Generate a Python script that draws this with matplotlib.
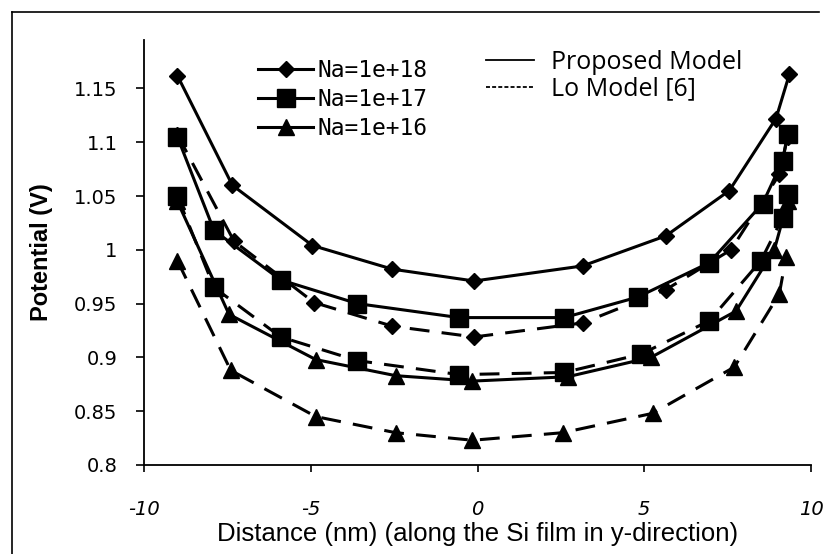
import matplotlib
matplotlib.use('Agg')
import matplotlib.pyplot as plt
from matplotlib.lines import Line2D

# Na = 1e18 (diamonds)
x_18_prop = [-9.0, -7.35, -4.95, -2.55, -0.1, 3.15, 5.65, 7.55, 8.95, 9.35]
y_18_prop = [1.162, 1.060, 1.004, 0.982, 0.971, 0.985, 1.013, 1.055, 1.122, 1.163]
x_18_lo = [-9.0, -7.3, -4.9, -2.55, -0.1, 3.15, 5.65, 7.6, 9.05, 9.3]
y_18_lo = [1.107, 1.008, 0.951, 0.929, 0.919, 0.932, 0.963, 1.0, 1.07, 1.105]

# Na = 1e17 (squares)
x_17_prop = [-9.0, -7.9, -5.9, -3.6, -0.55, 2.6, 4.8, 6.95, 8.55, 9.15, 9.3]
y_17_prop = [1.105, 1.018, 0.972, 0.950, 0.937, 0.937, 0.956, 0.988, 1.043, 1.083, 1.108]
x_17_lo = [-9.0, -7.9, -5.9, -3.6, -0.55, 2.6, 4.9, 6.95, 8.5, 9.15, 9.3]
y_17_lo = [1.05, 0.965, 0.919, 0.897, 0.884, 0.886, 0.903, 0.934, 0.99, 1.03, 1.052]

# Na = 1e16 (triangles)
x_16_prop = [-9.0, -7.45, -4.85, -2.45, -0.15, 2.7, 5.2, 7.75, 8.9, 9.3]
y_16_prop = [1.045, 0.94, 0.898, 0.883, 0.878, 0.882, 0.9, 0.943, 1.0, 1.045]
x_16_lo = [-9.0, -7.4, -4.85, -2.45, -0.15, 2.55, 5.25, 7.7, 9.05, 9.25]
y_16_lo = [0.99, 0.888, 0.845, 0.830, 0.823, 0.830, 0.848, 0.891, 0.959, 0.993]

x_ticks = [-10, -5, 0, 5, 10]
y_ticks = [0.8, 0.85, 0.9, 0.95, 1.0, 1.05, 1.1, 1.15]
y_ticklabels = ['0.8', '0.85', '0.9', '0.95', '1', '1.05', '1.1', '1.15']

dash = (0, (6.5, 4))
lw = 2.2

fig = plt.figure(figsize=(8.34, 5.54), dpi=100)
ax = fig.add_axes([144/834, 1 - 465/554, 667/834, 425/554])

# frame around the whole picture (left and top only visible)
fig.add_artist(Line2D([12/834, 12/834], [0, 1 - 12/554], color='black', lw=1.2))
fig.add_artist(Line2D([12/834, 819/834], [1 - 12/554, 1 - 12/554], color='black', lw=1.2))

ax.plot(x_18_prop, y_18_prop, color='black', lw=lw, marker='D', ms=8)
ax.plot(x_18_lo, y_18_lo, color='black', lw=lw, ls=dash, marker='D', ms=8)
ax.plot(x_17_prop, y_17_prop, color='black', lw=lw, marker='s', ms=13)
ax.plot(x_17_lo, y_17_lo, color='black', lw=lw, ls=dash, marker='s', ms=13)
ax.plot(x_16_prop, y_16_prop, color='black', lw=lw, marker='^', ms=12)
ax.plot(x_16_lo, y_16_lo, color='black', lw=lw, ls=dash, marker='^', ms=12)

ax.set_xlim(-10, 10)
ax.set_ylim(0.8, 1.195)
ax.set_xticks(x_ticks)
ax.set_xticklabels([str(t) for t in x_ticks], fontsize=14, style='italic',
                   family='DejaVu Sans')
ax.set_yticks(y_ticks)
ax.set_yticklabels(y_ticklabels, fontsize=14, family='DejaVu Sans')
ax.tick_params(axis='y', direction='out', length=6, width=1.2, pad=13)
ax.tick_params(axis='x', direction='out', length=5, width=1.2, pad=20)
for s in ['top', 'right']:
    ax.spines[s].set_visible(False)
for s in ['left', 'bottom']:
    ax.spines[s].set_linewidth(1.3)

ax.set_ylabel('Potential (V)', fontsize=17, fontweight='bold', family='Liberation Sans')
ax.yaxis.set_label_coords(-0.136, 0.5)
ax.set_xlabel('Distance (nm) (along the Si film in y-direction)', fontsize=18.5,
              family='Liberation Sans')
ax.xaxis.set_label_coords(0.5, -0.133)

h1 = [Line2D([], [], color='black', lw=lw, marker='D', ms=8),
      Line2D([], [], color='black', lw=lw, marker='s', ms=13),
      Line2D([], [], color='black', lw=lw, marker='^', ms=12)]
leg1 = ax.legend(h1, ['Na=1e+18', 'Na=1e+17', 'Na=1e+16'], frameon=False,
                 loc='upper left', bbox_to_anchor=(258/834, 1 - 59/554),
                 bbox_transform=fig.transFigure, borderpad=0, borderaxespad=0,
                 handlelength=2.4, handletextpad=0.2, labelspacing=0.27,
                 prop={'family': 'DejaVu Sans Mono', 'size': 16.5})
ax.add_artist(leg1)

h2 = [Line2D([], [], color='black', lw=1.3),
      Line2D([], [], color='black', lw=1.3, ls=(0, (2.2, 1.2)))]
ax.legend(h2, ['Proposed Model', 'Lo Model [6]'], frameon=False,
          loc='upper left', bbox_to_anchor=(486/834, 1 - 50/554),
          bbox_transform=fig.transFigure, borderpad=0, borderaxespad=0,
          handlelength=1.9, handletextpad=0.7, labelspacing=0.05,
          prop={'family': 'Open Sans', 'size': 18})

fig.savefig('out.png', dpi=100)
